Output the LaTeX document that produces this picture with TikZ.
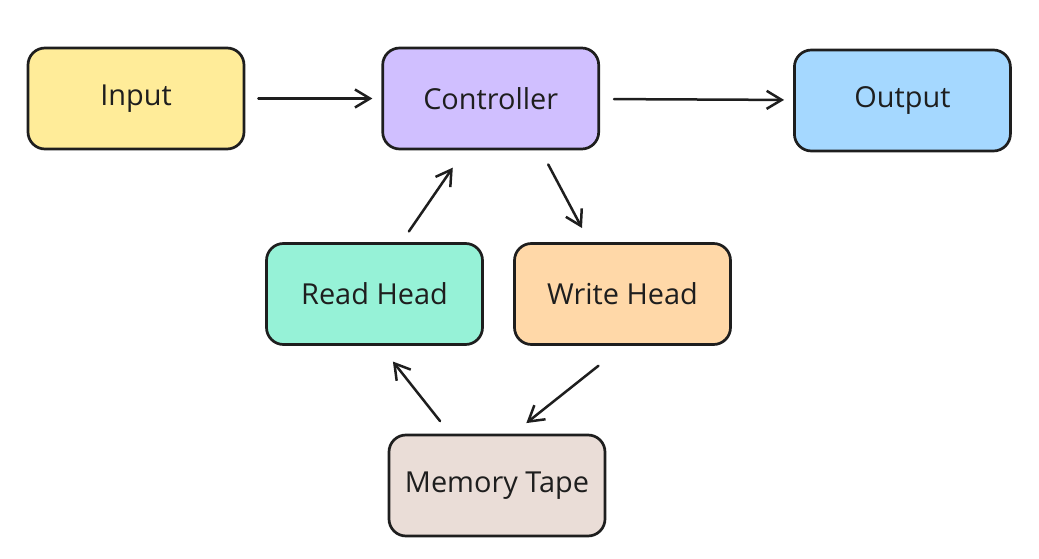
\documentclass[tikz,border=0pt]{standalone}
\usepackage{fontspec}
\setmainfont{Open Sans}
\usepackage{xcolor}
\usetikzlibrary{positioning}
\usetikzlibrary{arrows.meta}
\definecolor{ink}{HTML}{1E1E1E}
\definecolor{inputfill}{HTML}{FFEC99}
\definecolor{ctrlfill}{HTML}{D0BFFF}
\definecolor{outputfill}{HTML}{A5D8FF}
\definecolor{readfill}{HTML}{96F2D7}
\definecolor{writefill}{HTML}{FFD8A8}
\definecolor{tapefill}{HTML}{EADDD7}
\tikzset{box/.style={draw=ink, line width=2.7bp, rounded corners=17bp,
minimum width=216bp, minimum height=101bp, inner sep=0pt, text=ink,
font=\fontsize{29}{34}\selectfont},
flow/.style={draw=ink, line width=2.5bp, line cap=round,
-{Straight Barb[length=15bp,width=18bp]}}}

\begin{document}
\begin{tikzpicture}[x=1bp, y=-1bp]
\useasboundingbox (0,0) rectangle (1039,559);
	\node[box, fill=inputfill] (input) at (136,98.5) {Input};
	\node[box, fill=ctrlfill, right=136bp of input] (ctrl) {Controller};
	\node[box, fill=outputfill, right=193bp of ctrl, yshift=-2bp] (output) {Output};
	\node[box, fill=readfill] (read) at (374.5,294) {Read Head};
	\node[box, fill=writefill] (write) at (622.5,294) {Write Head};
	\node[box, fill=tapefill] (tape) at (497,485.5) {Memory Tape};
	% arrows
	\draw[flow, shorten <=13bp, shorten >=9bp] (input) -- (ctrl);
	\draw[flow, shorten <=14bp, shorten >=9bp] (ctrl) -- (output);
	\draw[flow, shorten <=16bp, shorten >=16bp] ([xshift=50bp]ctrl.south) -- ([xshift=-33bp]write.north);
	\draw[flow, shorten <=13bp, shorten >=21bp] ([xshift=27bp]read.north) -- ([xshift=-26bp]ctrl.south);
	\draw[flow, shorten <=32bp, shorten >=17bp] ([xshift=1bp]write.south) -- ([xshift=16bp]tape.north);
	\draw[flow, shorten <=16bp, shorten >=20bp] ([xshift=-47bp]tape.north) -- ([xshift=6bp]read.south);
\end{tikzpicture}
\end{document}
